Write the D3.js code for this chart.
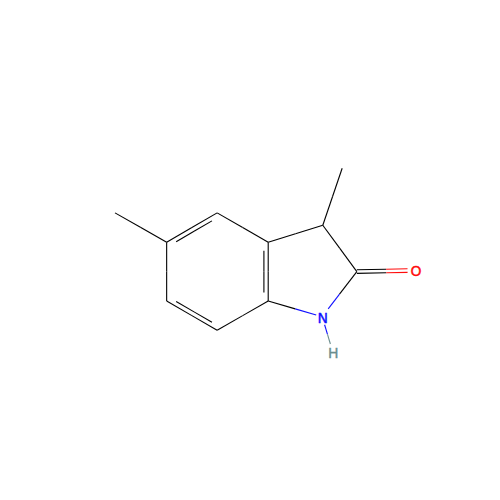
<!DOCTYPE html>
<html lang="en">
<head>
    <meta charset="UTF-8">
    <title>3,5-dimethylindolin-2-one</title>
    <script src="https://d3js.org/d3.v7.min.js"></script>
    <style>
        body, html {
            margin: 0;
            padding: 0;
            overflow: hidden;
            background: white;
        }
        svg {
            display: block;
        }
        .atom-label {
            font-family: "DejaVu Sans", sans-serif;
            font-size: 14px;
            stroke-width: 0.35px;
            text-anchor: middle;
            dominant-baseline: central;
        }
    </style>
</head>
<body>
    <svg width="500" height="500" id="chart"></svg>

    <script>
        // atoms, in bond lengths from the lower left of the drawing
        const atomNames = ["C", "C", "C", "C", "C", "C", "C", "C", "C", "C", "O", "N", "H"];
        const atomX = [0, 0.88, 1.74, 2.61, 2.61, 1.74, 0.88, 3.54, 3.87, 4.12, 5.12, 3.53, 3.71];
        const atomY = [2.37, 1.87, 2.37, 1.87, 0.87, 0.37, 0.87, 2.16, 3.13, 1.37, 1.39, 0.6, 0];

        // bonds: atom index pairs and bond order
        const bondFrom = [0, 1, 2, 3, 4, 5, 6, 3, 7, 7, 9, 9, 11, 11];
        const bondTo = [1, 2, 3, 4, 5, 6, 1, 7, 8, 9, 10, 11, 4, 12];
        const bondOrder = [1, 2, 1, 2, 1, 2, 1, 1, 1, 1, 2, 1, 1, 1];

        const colors = { C: "#000000", O: "#ff0d0d", N: "#1010ff", H: "#6b8e8e" };
        const labelBox = { O: [8, 8], N: [6, 8], H: [5, 8] };

        const unit = 58.7;
        const x = d3.scaleLinear().domain([0, 1]).range([115, 115 + unit]);
        const y = d3.scaleLinear().domain([0, 1]).range([352, 352 - unit]);

        const svg = d3.select("#chart");
        const atoms = atomNames.map((name, i) => ({ name, x: x(atomX[i]), y: y(atomY[i]) }));
        const ringCenter = { x: d3.mean([1, 2, 3, 4, 5, 6], i => atoms[i].x), y: d3.mean([1, 2, 3, 4, 5, 6], i => atoms[i].y) };

        // how far along a bond the line has to stop to clear the label box
        function clearance(atom, ux, uy) {
            const box = labelBox[atom.name];
            if (!box) return 0;
            return Math.min(box[0] / Math.max(Math.abs(ux), 1e-6), box[1] / Math.max(Math.abs(uy), 1e-6));
        }

        // half of the bond in each atom's colour
        function addBond(a, b, ox, oy, shrink) {
            const len = Math.hypot(b.x - a.x, b.y - a.y);
            const ux = (b.x - a.x) / len, uy = (b.y - a.y) / len;
            const start = Math.max(clearance(a, ux, uy), shrink);
            const end = len - Math.max(clearance(b, ux, uy), shrink);
            const mid = len / 2;
            const px = t => a.x + ux * t + ox;
            const py = t => a.y + uy * t + oy;
            segments.push({ x1: px(start), y1: py(start), x2: px(mid), y2: py(mid), color: colors[a.name] });
            segments.push({ x1: px(mid), y1: py(mid), x2: px(end), y2: py(end), color: colors[b.name] });
        }

        const segments = [];
        bondFrom.forEach((from, i) => {
            const a = atoms[from], b = atoms[bondTo[i]];
            if (bondOrder[i] === 1) {
                addBond(a, b, 0, 0, 0);
                return;
            }
            const len = Math.hypot(b.x - a.x, b.y - a.y);
            let nx = -(b.y - a.y) / len, ny = (b.x - a.x) / len;
            if (b.name === "O") {
                // carbonyl: two lines either side of the axis
                addBond(a, b, nx * 1.8, ny * 1.8, 0);
                addBond(a, b, -nx * 1.8, -ny * 1.8, 0);
            } else {
                // ring double bond: full line plus a shorter inner line
                const side = (ringCenter.x - a.x) * nx + (ringCenter.y - a.y) * ny;
                if (side < 0) { nx = -nx; ny = -ny; }
                addBond(a, b, 0, 0, 0);
                addBond(a, b, nx * 4.3, ny * 4.3, 8.5);
            }
        });

        svg.selectAll("line")
            .data(segments)
            .enter()
            .append("line")
            .attr("x1", d => d.x1)
            .attr("y1", d => d.y1)
            .attr("x2", d => d.x2)
            .attr("y2", d => d.y2)
            .attr("stroke", d => d.color)
            .attr("stroke-width", 1.1);

        svg.selectAll(".atom-label")
            .data(atoms.filter(d => d.name !== "C"))
            .enter()
            .append("text")
            .attr("class", "atom-label")
            .attr("x", d => d.x + 0.5)
            .attr("y", d => d.y + 1)
            .attr("fill", d => colors[d.name])
            .attr("stroke", d => colors[d.name])
            .text(d => d.name);
    </script>
</body>
</html>
